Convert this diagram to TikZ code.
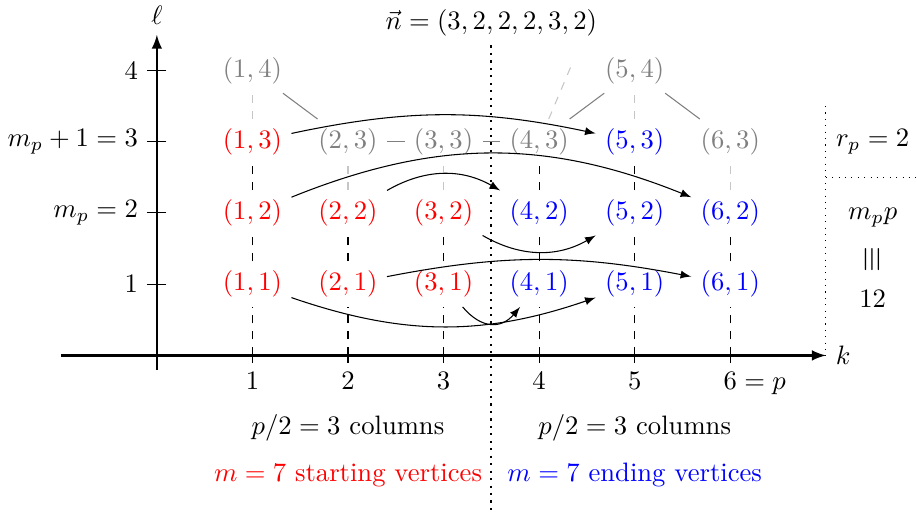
\documentclass[tikz,border=0pt]{standalone}
\usepackage{amsmath}
\begin{document}
\begin{tikzpicture}[x=1.261cm,y=0.94cm,
  src/.style={red},
  dst/.style={blue},
  unused/.style={gray},
  hop/.style={-latex},
  guide/.style={dashed},
  faint/.style={dashed,gray!45}]
\useasboundingbox (-2.07cm,-2.09cm) rectangle (10.03cm,4.69cm);

% axes
\draw[thick,-latex] (-1,0) -- (7,0) node[right] {$k$};
\draw[thick,-latex] (0,-0.2) -- (0,4.5) node[above] {$\ell$};
\foreach \k in {1,...,5}
  \draw (\k,0.1) -- (\k,-0.1) node[below] {$\k$};
\draw (6,0.1) -- (6,-0.1) node[below] {$6\rlap{${}=p$}$};
\foreach \k in {1,...,6}
  \coordinate (a\k) at (\k,0);
\draw (0.1,1) -- (-0.1,1) node[left] {$1$};
\draw (0.1,2) -- (-0.1,2) node[left] {$m_p=2$};
\draw (0.1,3) -- (-0.1,3) node[left] {$m_p+1=3$};
\draw (0.1,4) -- (-0.1,4) node[left] {$4$};

% vertices
\node[src] (n11) at (1,1) {$(1,1)$};
\node[src] (n21) at (2,1) {$(2,1)$};
\node[src] (n31) at (3,1) {$(3,1)$};
\node[dst] (n41) at (4,1) {$(4,1)$};
\node[dst] (n51) at (5,1) {$(5,1)$};
\node[dst] (n61) at (6,1) {$(6,1)$};
\node[src] (n12) at (1,2) {$(1,2)$};
\node[src] (n22) at (2,2) {$(2,2)$};
\node[src] (n32) at (3,2) {$(3,2)$};
\node[dst] (n42) at (4,2) {$(4,2)$};
\node[dst] (n52) at (5,2) {$(5,2)$};
\node[dst] (n62) at (6,2) {$(6,2)$};
\node[src] (n13) at (1,3) {$(1,3)$};
\node[unused] (n23) at (2,3) {$(2,3)$};
\node[unused] (n33) at (3,3) {$(3,3)$};
\node[unused] (n43) at (4,3) {$(4,3)$};
\node[dst] (n53) at (5,3) {$(5,3)$};
\node[unused] (n63) at (6,3) {$(6,3)$};
\node[unused] (n14) at (1,4) {$(1,4)$};
\node[unused] (n54) at (5,4) {$(5,4)$};
\coordinate (up) at (4.34,4.08);

% columns
\foreach \k in {1,...,6} {
  \draw[guide] (a\k) -- (n\k1);
  \draw[guide] (n\k1) -- (n\k2);
}
\draw[guide] (n12) -- (n13);
\draw[guide] (n42) -- (n43);
\draw[guide] (n52) -- (n53);
\draw[faint] (n13) -- (n14);
\draw[faint] (n22) -- (n23);
\draw[faint] (n32) -- (n33);
\draw[faint] (n53) -- (n54);
\draw[faint] (n62) -- (n63);
\draw[faint] (n43) -- (up);

% unused edges
\draw[gray] (n14) -- (n23);
\draw[gray] (n23) -- (n33);
\draw[gray] (n33) -- (n43);
\draw[gray] (n54) -- (n43);
\draw[gray] (n54) -- (n63);

% paths
\draw[hop] (n13) to[bend left=12] (n53);
\draw[hop] (n12) to[bend left=22] (n62);
\draw[hop] (n22) to[bend left=30] (n42);
\draw[hop] (n32) to[bend right=30] (n52);
\draw[hop] (n21) to[bend left=11] (n61);
\draw[hop] (n11) to[bend right=19] (n51);
\draw[hop] (n31) to[out=-50,in=-130,looseness=1.3] (n41);

% split
\node (vecn) at (3.5,4.67) {$\vec{n}=(3,2,2,2,3,2)$};
\draw[thick,dotted] (vecn) -- (3.5,-2.3);
\draw[dotted] (7,3.5) -- (7,0);
\draw[dotted] (7,2.5) -- (8,2.5);
\node (rp) at (7.49,3) {$r_p=2$};
\node (mpp) at (7.49,1.93) {$m_pp$};
\node (eqv) at (7.49,1.34) {\rotatebox{90}{\scalebox{1.25}{$\equiv$}}};
\node (twelve) at (7.49,0.8) {$12$};

\node (lcols) at (2,-1.02) {$p/2=3$ columns};
\node (rcols) at (5,-1.02) {$p/2=3$ columns};
\node[src] (starts) at (2,-1.68) {$m=7$ starting vertices};
\node[dst] (ends) at (5,-1.68) {$m=7$ ending vertices};
\end{tikzpicture}
\end{document}
